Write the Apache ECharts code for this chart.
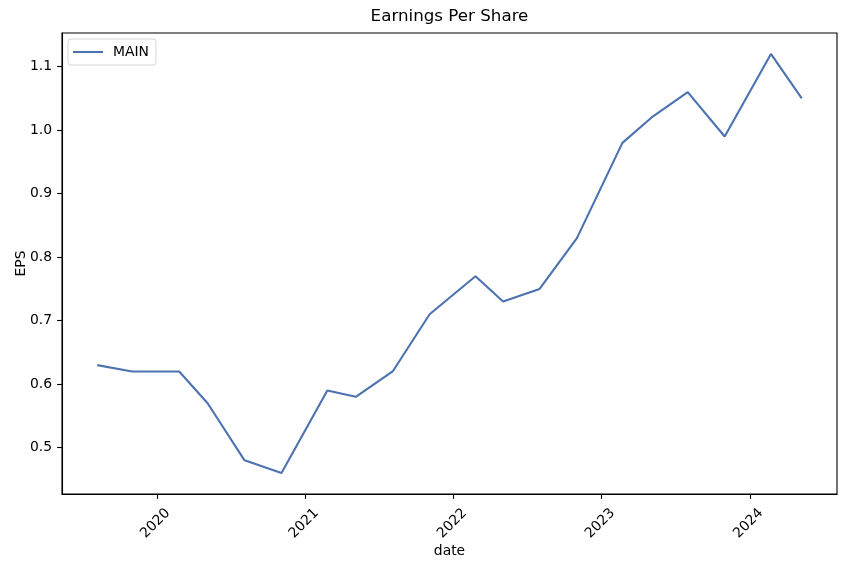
<!DOCTYPE html>
<html>
<head>
<meta charset="utf-8">
<script src="https://cdn.jsdelivr.net/npm/echarts@6/dist/echarts.min.js"></script>
<style>html,body{margin:0;padding:0;background:#fff}#c{width:846px;height:568px}</style>
</head>
<body>
<div id="c"></div>
<script>
const dates = ['2019-08-07','2019-11-01','2020-02-25','2020-05-05','2020-08-04','2020-11-03',
  '2021-02-24','2021-05-05','2021-08-04','2021-11-03','2022-02-24','2022-05-03',
  '2022-08-01','2022-11-01','2023-02-21','2023-05-04','2023-08-01','2023-10-31',
  '2024-02-22','2024-05-08'];
const eps = [0.63,0.62,0.62,0.57,0.48,0.46,0.59,0.58,0.62,0.71,0.77,0.73,0.75,0.83,0.98,1.02,1.06,0.99,1.12,1.05];
const seriesName = 'MAIN';
const xTickYears = ['2020','2021','2022','2023','2024'];
const yTicks = [0.5,0.6,0.7,0.8,0.9,1.0,1.1];

const ts = dates.map(d => Date.parse(d + 'T00:00:00Z'));
const xSpan = ts[ts.length-1] - ts[0];
const xMin = ts[0] - 0.05*xSpan, xMax = ts[ts.length-1] + 0.05*xSpan;
const yLo = Math.min(...eps), yHi = Math.max(...eps), ySpan = yHi - yLo;
const yMin = yLo - 0.05*ySpan, yMax = yHi + 0.05*ySpan;
const xTickVals = xTickYears.map(y => Date.parse(y + '-01-01T00:00:00Z'));
const FONT = 'DejaVu Sans';

const chart = echarts.init(document.getElementById('c'), null, {renderer:'canvas'});
chart.setOption({
  animation: false,
  backgroundColor: '#fff',
  textStyle: {fontFamily: FONT},
  title: {text: 'Earnings Per Share', left: 449.5, textAlign: 'center', top: 8, padding: 0,
    textStyle: {fontFamily: FONT, fontSize: 16.7, fontWeight: 'normal', color: '#000'}},
  legend: {left: 68, top: 39, padding: [6,7,6,5], itemWidth: 30, itemHeight: 2, icon: 'rect',
    borderColor: '#d6d6d6', borderWidth: 1, borderRadius: 3, backgroundColor: 'rgba(255,255,255,0.8)',
    textStyle: {fontFamily: FONT, fontSize: 13.9, color: '#000', padding: [0,0,0,5]},
    data: [seriesName]},
  grid: {left: 62, right: 9, top: 33, bottom: 74, show: true, borderColor: '#000', borderWidth: 1.1,
    containLabel: false, outerBoundsMode: 'none'},
  xAxis: {type: 'value', min: xMin, max: xMax,
    name: 'date', nameLocation: 'middle', nameGap: 50, nameMoveOverlap: false,
    nameTextStyle: {fontFamily: FONT, fontSize: 13.9, color: '#000'},
    axisLine: {show: true, lineStyle: {color: '#000', width: 1.1}},
    axisTick: {show: true, length: 4.9, lineStyle: {color: '#000', width: 1.1}, customValues: xTickVals},
    axisLabel: {customValues: xTickVals, rotate: 45, align: 'center', verticalAlign: 'middle', margin: 28,
      padding: [0, 4, 0, 0],
      fontFamily: FONT, fontSize: 13.9, color: '#000',
      formatter: v => String(new Date(v).getUTCFullYear())},
    splitLine: {show: false}},
  yAxis: {type: 'value', min: yMin, max: yMax,
    name: 'EPS', nameLocation: 'middle', nameGap: 34, nameMoveOverlap: false,
    nameTextStyle: {fontFamily: FONT, fontSize: 13.9, color: '#000'},
    axisLine: {show: true, lineStyle: {color: '#000', width: 1.1}},
    axisTick: {show: true, length: 4.9, lineStyle: {color: '#000', width: 1.1}, customValues: yTicks},
    axisLabel: {customValues: yTicks, margin: 10, fontFamily: FONT, fontSize: 13.9, color: '#000',
      formatter: v => v.toFixed(1)},
    splitLine: {show: false}},
  series: [{name: seriesName, type: 'line', data: ts.map((t,i) => [t, eps[i]]),
    symbol: 'none', lineStyle: {color: '#4c72b0', width: 2.1}, itemStyle: {color: '#4c72b0'}}]
});
</script>
</body>
</html>
